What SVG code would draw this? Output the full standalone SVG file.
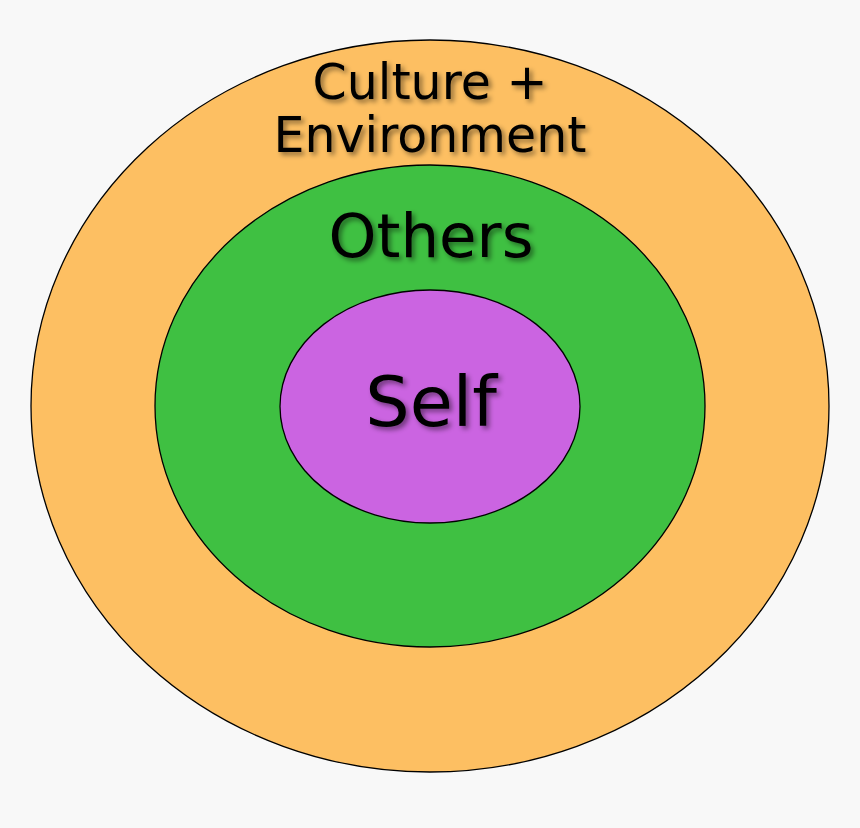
<svg xmlns="http://www.w3.org/2000/svg" width="860" height="828" viewBox="0 0 860 828">
<defs>
<filter id="sh" x="-10%" y="-20%" width="130%" height="150%">
<feDropShadow dx="3" dy="3" stdDeviation="2.5" flood-color="#000" flood-opacity="0.45"/>
</filter>
</defs>
<style>
.ring{stroke:#000;stroke-width:1.3}
.lbl{font-family:"DejaVu Sans",sans-serif;fill:#000;text-anchor:middle;filter:url(#sh)}
</style>
<rect width="860" height="828" fill="#f8f8f8"/>
<g id="culture">
<ellipse class="ring" cx="430" cy="406" rx="399" ry="366" fill="#fdbf62"/>
<text class="lbl" x="430" y="99" font-size="49">Culture +</text>
<text class="lbl" x="430" y="152" font-size="49">Environment</text>
</g>
<g id="others">
<ellipse class="ring" cx="430" cy="406" rx="275" ry="241" fill="#3fc042"/>
<text class="lbl" x="431" y="257" font-size="61">Others</text>
</g>
<g id="self">
<ellipse class="ring" cx="430" cy="406.5" rx="150" ry="116.5" fill="#cb64e1"/>
<text class="lbl" x="431" y="426" font-size="70">Self</text>
</g>
<g id="connectors"/>
</svg>
